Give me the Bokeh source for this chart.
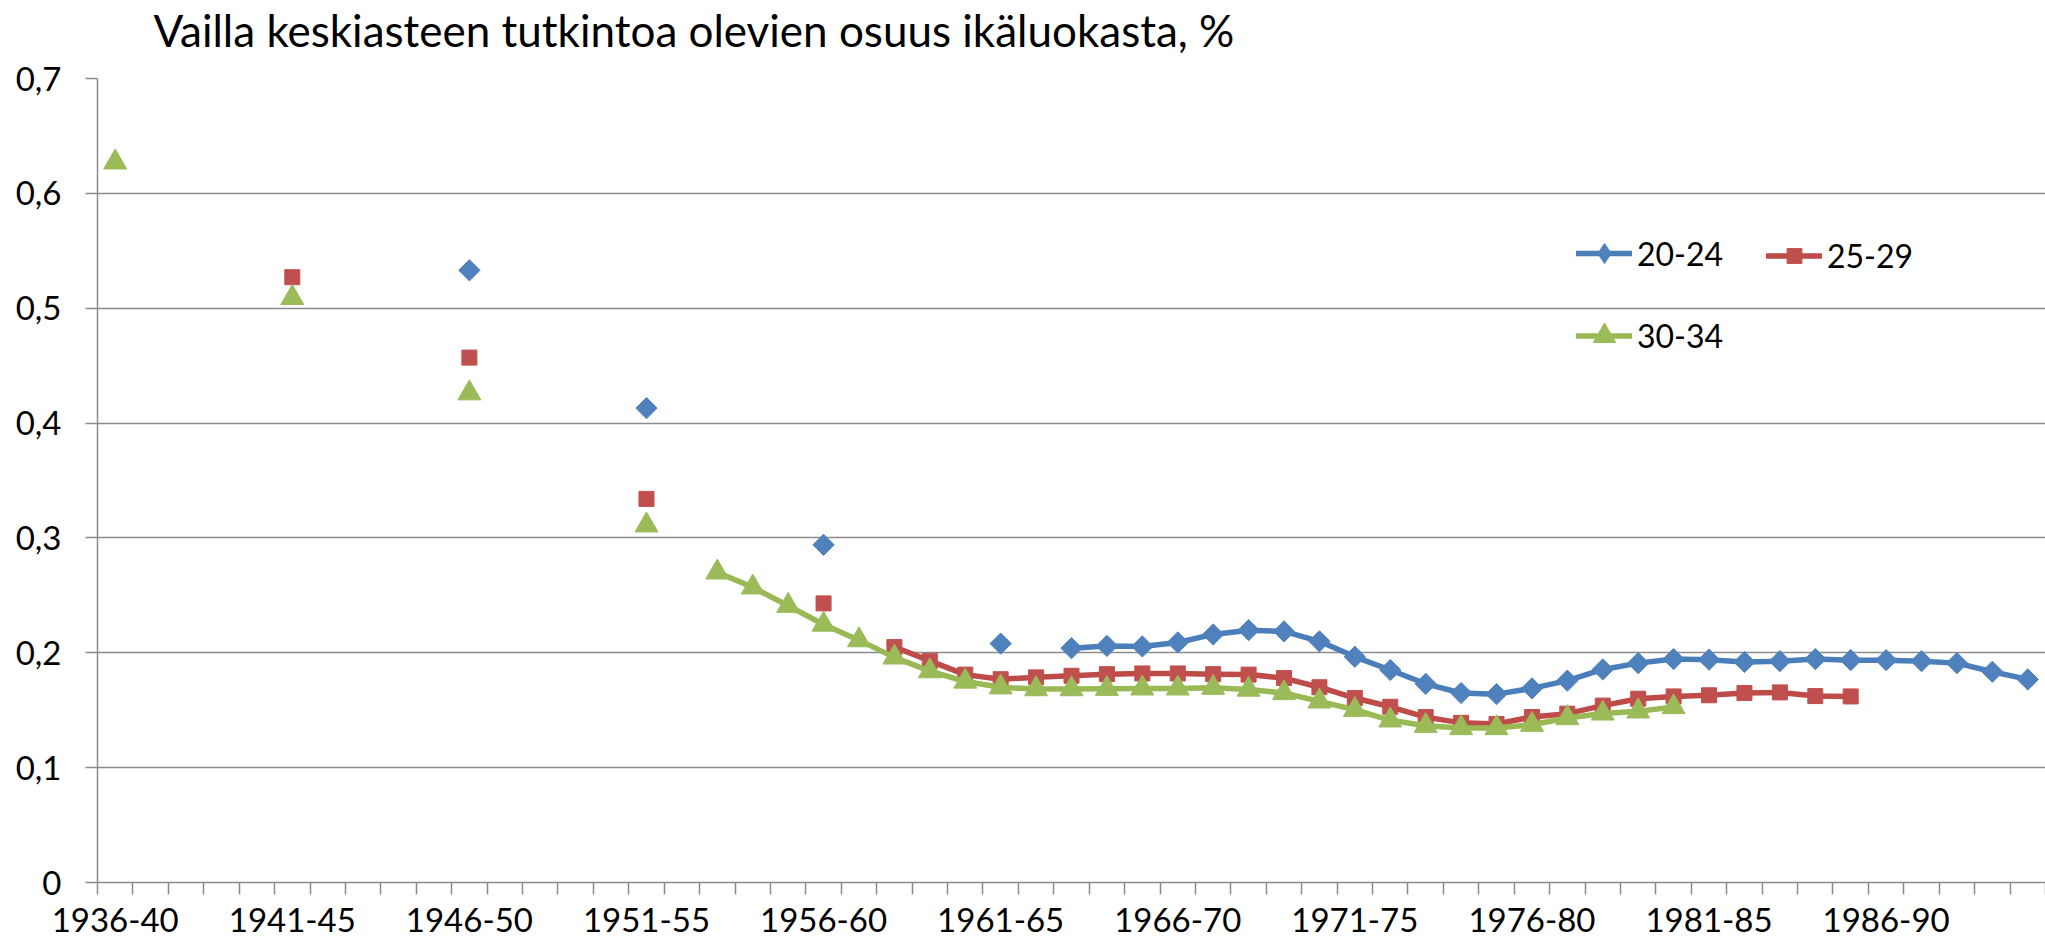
import math
from bokeh.plotting import figure
from bokeh.models import FixedTicker, Legend, LegendItem, Title, ColumnDataSource
from bokeh.embed import file_html
from bokeh.resources import INLINE

NaN = float("nan")

cohorts = [
    "1936-40", "1937-41", "1938-42", "1939-43", "1940-44",
    "1941-45", "1942-46", "1943-47", "1944-48", "1945-49",
    "1946-50", "1947-51", "1948-52", "1949-53", "1950-54",
    "1951-55", "1952-56", "1953-57", "1954-58", "1955-59",
    "1956-60", "1957-61", "1958-62", "1959-63", "1960-64",
    "1961-65", "1962-66", "1963-67", "1964-68", "1965-69",
    "1966-70", "1967-71", "1968-72", "1969-73", "1970-74",
    "1971-75", "1972-76", "1973-77", "1974-78", "1975-79",
    "1976-80", "1977-81", "1978-82", "1979-83", "1980-84",
    "1981-85", "1982-86", "1983-87", "1984-88", "1985-89",
    "1986-90", "1987-91", "1988-92", "1989-93", "1990-94",
]
tick_labels = ["1936-40", "1941-45", "1946-50", "1951-55", "1956-60", "1961-65",
               "1966-70", "1971-75", "1976-80", "1981-85", "1986-90"]
y_ticks = [0, 0.1, 0.2, 0.3, 0.4, 0.5, 0.6, 0.7]
y_tick_labels = ["0", "0,1", "0,2", "0,3", "0,4", "0,5", "0,6", "0,7"]

# age group 20-24
s20_24 = [NaN, NaN, NaN, NaN, NaN, NaN, NaN, NaN, NaN, NaN,
          0.533, NaN, NaN, NaN, NaN, 0.413, NaN, NaN, NaN, NaN,
          0.294, NaN, NaN, NaN, NaN, 0.208, NaN, 0.204, 0.206, 0.2055,
          0.209, 0.216, 0.2197, 0.2186, 0.210, 0.1965, 0.185, 0.173, 0.165, 0.164,
          0.169, 0.1758, 0.1855, 0.191, 0.1945, 0.194, 0.192, 0.1927, 0.1945, 0.1936,
          0.1936, 0.1927, 0.191, 0.1835, 0.1768]
# age group 25-29
s25_29 = [NaN, NaN, NaN, NaN, NaN, 0.527, NaN, NaN, NaN, NaN,
          0.457, NaN, NaN, NaN, NaN, 0.334, NaN, NaN, NaN, NaN,
          0.243, NaN, 0.205, 0.193, 0.181, 0.177, 0.1786, 0.180, 0.1814, 0.182,
          0.182, 0.1814, 0.181, 0.178, 0.170, 0.1606, 0.153, 0.144, 0.139, 0.138,
          0.1441, 0.147, 0.154, 0.160, 0.162, 0.163, 0.165, 0.1655, 0.1623, 0.162,
          NaN, NaN, NaN, NaN, NaN]
# age group 30-34
s30_34 = [0.627, NaN, NaN, NaN, NaN, 0.509, NaN, NaN, NaN, NaN,
          0.426, NaN, NaN, NaN, NaN, 0.311, NaN, 0.270, 0.257, 0.241,
          0.2246, 0.211, 0.196, 0.184, 0.175, 0.170, 0.1684, 0.1684, 0.1687, 0.169,
          0.169, 0.1696, 0.168, 0.165, 0.1577, 0.1504, 0.1412, 0.1365, 0.1345, 0.1345,
          0.1374, 0.1432, 0.1472, 0.149, 0.1528, NaN, NaN, NaN, NaN, NaN,
          NaN, NaN, NaN, NaN, NaN]

title_text = "Vailla keskiasteen tutkintoa olevien osuus ikäluokasta, %"

FONT = "Lato"
GRID = "#8c8c8c"
n = len(cohorts)
xs = [i + 0.5 for i in range(n)]

p = figure(width=2045, height=948, x_range=(0, n), y_range=(0, 0.7),
           output_backend="svg", toolbar_location=None,
           min_border_left=97, min_border_right=0, min_border_top=78, min_border_bottom=66)
p.outline_line_color = None
p.background_fill_color = "white"
p.border_fill_color = "white"

# real title (outermost) + small spacer between it and the frame
p.title.text = title_text
p.title.text_font = FONT
p.title.text_font_size = "44px"
p.title.text_font_style = "normal"
p.title.text_color = "black"
p.title.align = "left"
p.title.offset = 56
p.title.standoff = 0
p.add_layout(Title(text=" ", text_font=FONT, text_font_size="10px", standoff=9), "above")

# x axis
label_pos = [xs[cohorts.index(t)] for t in tick_labels]
p.xaxis.ticker = FixedTicker(ticks=label_pos, minor_ticks=list(range(n + 1)))
p.xaxis.major_label_overrides = {pos: t for pos, t in zip(label_pos, tick_labels)}
p.xaxis.major_tick_line_color = None
p.xaxis.minor_tick_in = 0
p.xaxis.minor_tick_out = 12
p.xaxis.minor_tick_line_color = GRID
p.xaxis.minor_tick_line_width = 1.5
p.xaxis.axis_line_color = GRID
p.xaxis.axis_line_width = 1.5
p.xaxis.major_label_text_font = FONT
p.xaxis.major_label_text_font_size = "33px"
p.xaxis.major_label_text_color = "black"
p.xaxis.major_label_standoff = 13
p.xgrid.grid_line_color = None

# y axis
p.yaxis.ticker = FixedTicker(ticks=y_ticks, minor_ticks=[])
p.yaxis.major_label_overrides = {t: l for t, l in zip(y_ticks, y_tick_labels)}
p.yaxis.major_tick_in = 0
p.yaxis.major_tick_out = 12
p.yaxis.major_tick_line_color = GRID
p.yaxis.major_tick_line_width = 1.5
p.yaxis.axis_line_color = GRID
p.yaxis.axis_line_width = 1.5
p.yaxis.major_label_text_font = FONT
p.yaxis.major_label_text_font_size = "33px"
p.yaxis.major_label_text_color = "black"
p.yaxis.major_label_standoff = 24
p.ygrid.grid_line_color = GRID
p.ygrid.grid_line_width = 1.5

series = [
    ("20-24", s20_24, "#4A7EBB", "#4F81BD", dict(marker="square", angle=math.pi / 4, size=15), "diamond"),
    ("25-29", s25_29, "#BE4B48", "#C0504D", dict(marker="square", size=15), "square"),
    ("30-34", s30_34, "#98B954", "#9BBB59", dict(marker="triangle", size=23), "triangle"),
]
items = {}
for name, vals, lc, mc, mk, legend_marker in series:
    rl = p.line(xs, vals, line_color=lc, line_width=5.5, line_join="round", line_cap="round")
    rm = p.scatter(xs, vals, fill_color=mc, line_color=mc, line_width=1, **mk)
    # legend-only marker glyph: a single empty (NaN) row, never drawn in the plot
    legend_src = ColumnDataSource(data=dict(x=[NaN], y=[NaN]))
    rg = p.scatter("x", "y", source=legend_src, marker=legend_marker,
                   fill_color=mc, line_color=mc, line_width=1)
    items[name] = LegendItem(label=name, renderers=[rl, rg])

common = dict(orientation="horizontal", padding=0, margin=0, spacing=46, label_standoff=5,
              glyph_width=56, border_line_alpha=0, background_fill_alpha=0,
              label_text_font=FONT, label_text_font_size="32px", label_text_color="black")
leg_a = Legend(items=[items["20-24"]], location=(1479, 604), glyph_height=50, **common)
leg_b = Legend(items=[items["25-29"]], location=(1669, 607), glyph_height=37, **common)
leg_c = Legend(items=[items["30-34"]], location=(1479, 518), glyph_height=57, **common)
for lg in (leg_a, leg_b, leg_c):
    p.add_layout(lg, "center")

open("out.html", "w").write(file_html(p, INLINE))
